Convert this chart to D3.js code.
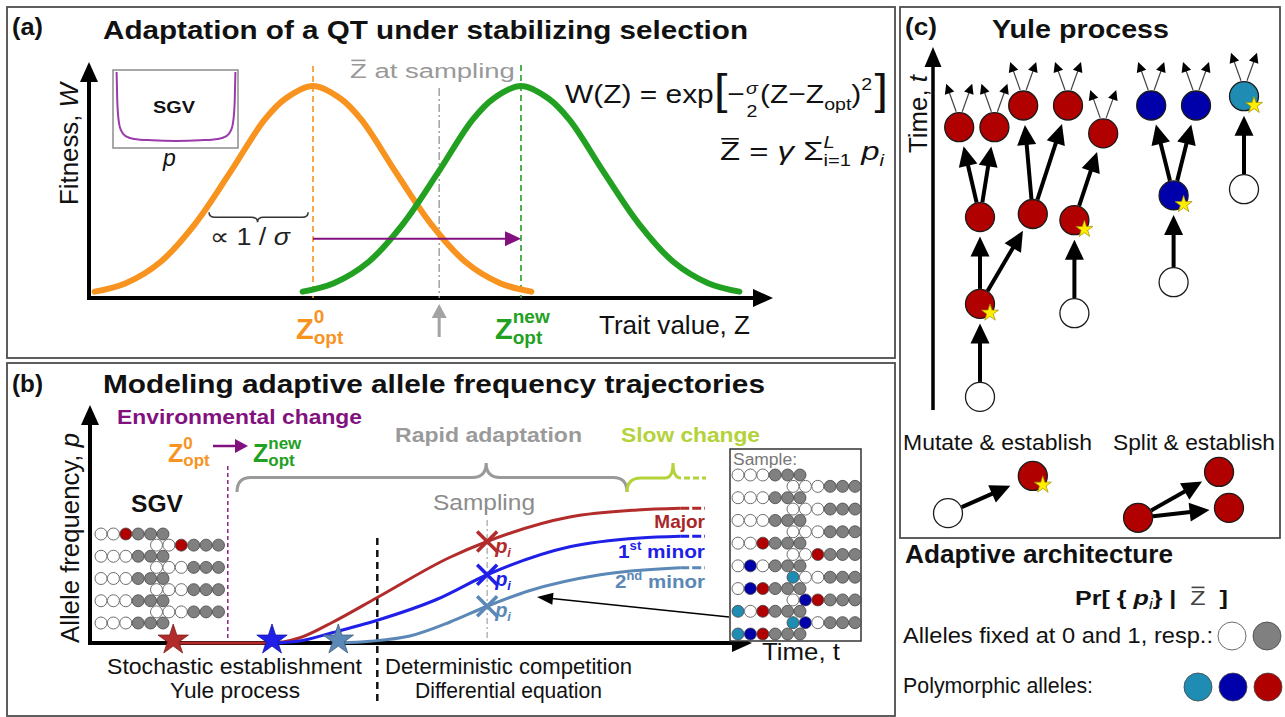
<!DOCTYPE html>
<html>
<head>
<meta charset="utf-8">
<style>
  body { margin: 0; background: #fff; }
  svg { font-family: "Liberation Sans", Arial, Helvetica, sans-serif; display: block; }
  .frame { fill: none; stroke: #4d4d4d; stroke-width: 1.8; }
</style>
</head>
<body>
<svg id="fig" width="1285" height="717"></svg>
<script src="https://d3js.org/d3.v7.min.js"></script>
<script>
// ---------- (a) fitness curves ----------
const orangeZ = [-0.15, 0.3, 0.8, 1.3, 1.8, 2.3, 2.6, 3.0, 3.4, 3.7, 4.2, 4.7, 5.2, 5.7, 6.15]
const orangeW = [0.03, 0.07, 0.17, 0.35, 0.59, 0.84, 0.94, 1.0, 0.94, 0.84, 0.59, 0.35, 0.17, 0.07, 0.03]
const greenZ  = [2.85, 3.3, 3.8, 4.3, 4.8, 5.3, 5.6, 6.0, 6.4, 6.7, 7.2, 7.7, 8.2, 8.7, 9.15]
const greenW  = [0.03, 0.07, 0.17, 0.35, 0.59, 0.84, 0.94, 1.0, 0.94, 0.84, 0.59, 0.35, 0.17, 0.07, 0.03]
const zOpt0 = 3.0, zOptNew = 6.0, zBarSample = 4.82
// SGV inset: U-shaped allele frequency spectrum
const sgvP    = [0.005, 0.01, 0.02, 0.04, 0.08, 0.15, 0.3, 0.5, 0.7, 0.85, 0.92, 0.96, 0.98, 0.99, 0.995]
const sgvDens = [1.0, 0.62, 0.33, 0.16, 0.07, 0.03, 0.01, 0.0, 0.01, 0.03, 0.07, 0.16, 0.33, 0.62, 1.0]

// ---------- (b) allele frequency trajectories ----------
const tMajor  = [1.28, 2.77, 3.23, 3.74, 4.42, 5.54, 6.11, 7.38, 8.42, 9.08]
const pMajor  = [0, 0, 0.03, 0.12, 0.26, 0.49, 0.58, 0.72, 0.76, 0.77]
const tMinor1 = [2.8, 3.2, 3.74, 4.42, 5.34, 6.11, 7.38, 8.46, 9.08]
const pMinor1 = [0, 0.01, 0.06, 0.13, 0.25, 0.39, 0.55, 0.60, 0.61]
const tMinor2 = [3.82, 4.31, 4.92, 5.54, 6.11, 6.77, 7.85, 9.08]
const pMinor2 = [0, 0.01, 0.04, 0.12, 0.21, 0.30, 0.39, 0.43]
const tEnvChange = 2.12, tDeterministic = 4.42, tSample = 6.11, tDashEnd = 9.46
// standing genetic variation and the sample (0 fixed at 0, 1 fixed at 1, r/b/t polymorphic)
const sgvRows    = ["00r111", "00r111", "000111", "000111", "000111", "000111", "000111", "000111", "000111"]
const sampleRows = ["000111", "000111", "000111", "000111", "000111", "000111", "00r111", "00r111",
                    "0b0111", "t00111", "0br111", "0br111", "t0r111", "tb0111", "tbr111"]

// ---------- (c) Yule process ----------
const yuleLineage = [1.25, 1.25, 1.25, 2.9, 0.6, 1.7, 2.6, 4.0, 4.2, 4.2, 5.1, 7.3, 7.3, 6.6, 8.0, 9.5, 9.5]
const yuleTime    = [0.1, 3.1, 5.9, 6.0, 8.8, 8.8, 9.5, 9.5, 2.8, 5.8, 8.6, 3.8, 6.6, 9.5, 9.5, 6.8, 9.8]
const yuleType    = ["0", "r", "r", "r", "r", "r", "r", "r", "0", "r", "r", "0", "b", "b", "b", "0", "t"]
const yuleStar    = [0, 1, 0, 0, 0, 0, 0, 0, 0, 1, 0, 0, 1, 0, 0, 0, 1]
const yuleEdges   = [[0, 1], [1, 2], [1, 3], [2, 4], [2, 5], [3, 6], [3, 7], [8, 9], [9, 10],
                     [11, 12], [12, 13], [12, 14], [15, 16]]
const yuleLeaves  = [4, 5, 6, 7, 10, 13, 14, 16]
const fixedAlleles = ["0", "1"]
const polyAlleles  = ["t", "b", "r"]

const ORANGE = "#f7931e", GREEN = "#22a022", PURPLE = "#82117f", GRAYT = "#9a9a9a", LIME = "#b4d23a"
const RED = "#b22c2c", BLUE = "#1f1fe8", STEEL = "#5b88b6"
const alleleFill = { "0": "#fff", "1": "#808080", r: "#b00000", b: "#0000aa", t: "#1f8db3" }

const svg = d3.select("#fig")

function label(g, x, y, s, o = {}) {
    let t = g.append("text").attr("x", x).attr("y", y)
        .attr("font-size", o.size || 20)
        .attr("font-weight", o.bold ? "bold" : "normal")
        .attr("font-style", o.italic ? "italic" : "normal")
        .attr("fill", o.color || "#111")
        .attr("text-anchor", o.anchor || "start")
        .text(s)
    if (o.w) t.attr("textLength", o.w).attr("lengthAdjust", "spacingAndGlyphs")
    return t
}

// a line of mixed text (sub/superscripts, stacked indices, overlines)
function row(g, x, y, pieces, o = {}) {
    let grp = g.append("g")
    let cx = 0
    const put = (p, px) => grp.append("text").attr("x", px).attr("y", p.dy || 0)
        .attr("font-size", p.size || o.size)
        .attr("font-weight", (p.bold !== undefined ? p.bold : o.bold) ? "bold" : "normal")
        .attr("font-style", p.italic ? "italic" : "normal")
        .attr("fill", p.color || o.color || "#111")
        .text(p.s.replace(/ /g, "\u00a0"))
    pieces.forEach(p => {
        if (p.stack) {
            let ts = p.stack.map(q => put(q, cx))
            let ws = ts.map(t => t.node().getComputedTextLength())
            let W = Math.max(...ws)
            if (p.center) ts.forEach((t, i) => t.attr("x", cx + (W - ws[i]) / 2))
            cx += W + (p.gap || 0)
        } else {
            let t = put(p, cx)
            let w = t.node().getComputedTextLength()
            if (p.bar) {
                let by = -(p.size || o.size) * 0.72 - 2.5
                grp.append("line").attr("x1", cx + 1).attr("x2", cx + w - 1)
                    .attr("y1", by).attr("y2", by)
                    .attr("stroke", p.color || o.color || "#111").attr("stroke-width", 1.6)
            }
            cx += w + (p.gap || 0)
        }
    })
    let sx = o.w ? o.w / cx : 1
    let x0 = x
    if (!o.rotate && o.anchor === "end") x0 = x - cx * sx
    if (!o.rotate && o.anchor === "middle") x0 = x - cx * sx / 2
    grp.attr("transform", `translate(${x0},${y})` + (o.rotate ? ` rotate(${o.rotate})` : "") + ` scale(${sx},1)`)
    return grp
}

function arrow(g, x1, y1, x2, y2, o) {
    let len = Math.hypot(x2 - x1, y2 - y1)
    let ux = (x2 - x1) / len, uy = (y2 - y1) / len
    let hl = o.head, hw = o.headW || o.head
    let bx = x2 - ux * hl, by = y2 - uy * hl
    g.append("line").attr("x1", x1).attr("y1", y1).attr("x2", bx + ux).attr("y2", by + uy)
        .attr("stroke", o.line || o.color).attr("stroke-width", o.width)
    g.append("path")
        .attr("d", `M${x2},${y2}L${bx - uy * hw / 2},${by + ux * hw / 2}L${bx + uy * hw / 2},${by - ux * hw / 2}Z`)
        .attr("fill", o.color)
}

function brace(x1, x2, y0, h, dir, r, xm) {
    let ym = y0 + dir * h / 2, yt = y0 + dir * h
    return `M${x1},${y0} Q${x1},${ym} ${x1 + r},${ym} L${xm - r},${ym} Q${xm},${ym} ${xm},${yt} ` +
        `Q${xm},${ym} ${xm + r},${ym} L${x2 - r},${ym} Q${x2},${ym} ${x2},${y0}`
}

function dot(g, x, y, code, r) {
    g.append("circle").attr("cx", x).attr("cy", y).attr("r", r)
        .attr("fill", alleleFill[code])
        .attr("stroke", code === "0" ? "#6e6e6e" : "#444").attr("stroke-width", code === "0" ? 1 : 0.8)
}

// ====================== panel (a) ======================
let gA = svg.append("g")
gA.append("rect").attr("class", "frame").attr("x", 7).attr("y", 7).attr("width", 888).attr("height", 351)
label(gA, 12, 35, "(a)", { size: 24, bold: true, w: 31 })
label(gA, 103, 39, "Adaptation of a QT under stabilizing selection", { size: 25, bold: true, w: 645 })

let xA = d3.scaleLinear().domain([zOpt0, zOptNew]).range([313, 521])
let yA = d3.scaleLinear().domain([0, 1]).range([298, 86])

arrow(gA, 89, 300, 89, 62, { width: 4, head: 20, headW: 18, color: "#000" })
arrow(gA, 87, yA(0), 773, yA(0), { width: 4, head: 20, headW: 18, color: "#000" })
row(gA, 78, 205, [{ s: "Fitness, " }, { s: "W", italic: true }], { size: 25, rotate: -90, w: 122 })
label(gA, 599, 334, "Trait value, Z", { size: 25, w: 151 })

// optimum and sampling markers
gA.append("line").attr("x1", xA(zOpt0)).attr("x2", xA(zOpt0)).attr("y1", 66).attr("y2", yA(0))
    .attr("stroke", ORANGE).attr("stroke-width", 1.6).attr("stroke-dasharray", "6,4")
gA.append("line").attr("x1", xA(zOptNew)).attr("x2", xA(zOptNew)).attr("y1", 65).attr("y2", yA(0))
    .attr("stroke", GREEN).attr("stroke-width", 1.6).attr("stroke-dasharray", "6,4")
gA.append("line").attr("x1", xA(zBarSample)).attr("x2", xA(zBarSample)).attr("y1", yA(0.99)).attr("y2", yA(0))
    .attr("stroke", "#9a9a9a").attr("stroke-width", 1.4).attr("stroke-dasharray", "8,3,2,3")
arrow(gA, xA(zBarSample), 337, xA(zBarSample), 304, { width: 3, head: 14, headW: 15, color: "#a3a3a3" })
row(gA, 350, 78, [{ s: "Z", bar: true }, { s: " at sampling" }], { size: 21, color: "#999", w: 165 })

let fitLine = d3.line().x(d => xA(d[0])).y(d => yA(d[1])).curve(d3.curveCatmullRom)
gA.append("path").attr("d", fitLine(d3.zip(orangeZ, orangeW)))
    .attr("fill", "none").attr("stroke", ORANGE).attr("stroke-width", 6).attr("stroke-linecap", "round")
gA.append("path").attr("d", fitLine(d3.zip(greenZ, greenW)))
    .attr("fill", "none").attr("stroke", GREEN).attr("stroke-width", 6).attr("stroke-linecap", "round")

arrow(gA, xA(zOpt0), yA(0.28), xA(zOptNew), yA(0.28), { width: 2, head: 16, headW: 15, color: PURPLE })

gA.append("path").attr("d", brace(xA(1.5), xA(2.93), yA(0.405), 10, 1, 6, xA(2.2)))
    .attr("fill", "none").attr("stroke", "#333").attr("stroke-width", 1.5)
row(gA, 210, 245, [{ s: "∝ 1 / " }, { s: "σ", italic: true }], { size: 24, w: 80, color: "#222" })

row(gA, 296, 339, [{ s: "Z", size: 29 }, { stack: [{ s: "0", size: 19, dy: -16 }, { s: "opt", size: 19, dy: 5 }] }],
    { bold: true, color: ORANGE })
row(gA, 495, 339, [{ s: "Z", size: 29 }, { stack: [{ s: "new", size: 19, dy: -16 }, { s: "opt", size: 19, dy: 5 }] }],
    { bold: true, color: GREEN })

// SGV inset
let xS = d3.scaleLinear().domain([0, 1]).range([116, 236])
let yS = d3.scaleLinear().domain([0, 1]).range([141, 72])
gA.append("rect").attr("x", 113).attr("y", 70).attr("width", 125).attr("height", 78)
    .attr("fill", "#fff").attr("stroke", "#8c8c8c").attr("stroke-width", 1.5)
gA.append("path").attr("d", d3.line().x(d => xS(d[0])).y(d => yS(d[1])).curve(d3.curveMonotoneX)(d3.zip(sgvP, sgvDens)))
    .attr("fill", "none").attr("stroke", "#9a3aad").attr("stroke-width", 2)
label(gA, 153, 113, "SGV", { size: 17, bold: true, w: 42 })
label(gA, 163, 166, "p", { size: 23, italic: true })

// formulas
row(gA, 565, 103, [
    { s: "W(Z) = exp" },
    { s: "[", size: 42, dy: 1 },
    { s: "−", gap: 1 },
    { stack: [{ s: "σ", italic: true, size: 17, dy: -9 }, { s: "2", size: 17, dy: 14 }], center: true, gap: 2 },
    { s: "(Z−Z" },
    { s: "opt", size: 17, dy: 7 },
    { s: ")" },
    { s: "2", size: 17, dy: -13, gap: 2 },
    { s: "]", size: 42, dy: 1 }
], { size: 26, w: 323 })
row(gA, 720, 160, [
    { s: "Z", bar: true },
    { s: " = " },
    { s: "γ", italic: true },
    { s: " Σ" },
    { stack: [{ s: "L", italic: true, size: 16, dy: -12 }, { s: "i=1", size: 16, dy: 6 }], gap: 8 },
    { s: "p", italic: true },
    { s: "i", italic: true, size: 16, dy: 6 }
], { size: 26, w: 164 })

// ====================== panel (b) ======================
let gB = svg.append("g")
gB.append("rect").attr("class", "frame").attr("x", 7).attr("y", 363).attr("width", 888).attr("height", 353)
label(gB, 12, 392, "(b)", { size: 24, bold: true, w: 31 })
label(gB, 103, 393, "Modeling adaptive allele frequency trajectories", { size: 25, bold: true, w: 662 })

let xB = d3.scaleLinear().domain([0, 10]).range([90, 740])
let yB = d3.scaleLinear().domain([0, 1]).range([643, 468])

row(gB, 79, 643, [{ s: "Allele frequency, " }, { s: "p", italic: true }], { size: 25, rotate: -90, w: 210 })

label(gB, 117, 424, "Environmental change", { size: 21, bold: true, color: PURPLE, w: 245 })
row(gB, 168, 462, [{ s: "Z", size: 25 }, { stack: [{ s: "0", size: 17, dy: -13 }, { s: "opt", size: 17, dy: 4 }] }],
    { bold: true, color: ORANGE })
arrow(gB, 213, 446, 248, 446, { width: 2.5, head: 13, headW: 14, color: PURPLE })
row(gB, 253, 462, [{ s: "Z", size: 25 }, { stack: [{ s: "new", size: 17, dy: -13 }, { s: "opt", size: 17, dy: 4 }] }],
    { bold: true, color: GREEN })
gB.append("line").attr("x1", xB(tEnvChange)).attr("x2", xB(tEnvChange)).attr("y1", 466).attr("y2", yB(0))
    .attr("stroke", PURPLE).attr("stroke-width", 1.4).attr("stroke-dasharray", "4,3")

label(gB, 131, 512, "SGV", { size: 23, bold: true, w: 52 })
let sgvCol = d3.scaleLinear().domain([0, 5]).range([0, 62])
let sgvRow = d3.scaleLinear().domain([0, sgvRows.length - 1]).range([534, 623])
sgvRows.forEach((r, i) => {
    let x0 = i % 2 === 0 ? 101 : 156.5
    r.split("").forEach((c, j) => dot(gB, x0 + sgvCol(j), sgvRow(i), c, 6))
})

// braces
gB.append("path").attr("d", brace(237, 627, 492, 29, -1, 14, xB(tSample) - 1))
    .attr("fill", "none").attr("stroke", "#9a9a9a").attr("stroke-width", 3)
gB.append("path").attr("d", "M627,492 Q627,478 641,478 L665,478 Q673,478 673,463 Q673,478 681,478")
    .attr("fill", "none").attr("stroke", LIME).attr("stroke-width", 3)
gB.append("line").attr("x1", 684).attr("x2", 706).attr("y1", 478).attr("y2", 478)
    .attr("stroke", LIME).attr("stroke-width", 3).attr("stroke-dasharray", "6,3")
label(gB, 395, 442, "Rapid adaptation", { size: 21, bold: true, color: GRAYT, w: 187 })
label(gB, 621, 442, "Slow change", { size: 21, bold: true, color: LIME, w: 139 })
label(gB, 433, 510, "Sampling", { size: 22, color: "#8c8c8c", w: 102 })

// phase boundaries
gB.append("line").attr("x1", xB(tDeterministic)).attr("x2", xB(tDeterministic)).attr("y1", 538).attr("y2", 703)
    .attr("stroke", "#111").attr("stroke-width", 2.5).attr("stroke-dasharray", "7,5")
gB.append("line").attr("x1", xB(tSample)).attr("x2", xB(tSample)).attr("y1", 520).attr("y2", yB(0))
    .attr("stroke", "#aaa").attr("stroke-width", 1.3).attr("stroke-dasharray", "6,3,2,3")

// axes
arrow(gB, 90, 645, 90, 405, { width: 4, head: 20, headW: 18, color: "#000" })
arrow(gB, 88, yB(0), 752, yB(0), { width: 4, head: 20, headW: 18, color: "#000" })

// trajectories
let trajLine = d3.line().x(d => xB(d[0])).y(d => yB(d[1])).curve(d3.curveMonotoneX)
let series = [
    { t: tMajor, p: pMajor, color: RED },
    { t: tMinor1, p: pMinor1, color: BLUE },
    { t: tMinor2, p: pMinor2, color: STEEL }
]
series.forEach(s => {
    gB.append("path").attr("d", trajLine(d3.zip(s.t, s.p)))
        .attr("fill", "none").attr("stroke", s.color).attr("stroke-width", 3)
    let last = s.p[s.p.length - 1]
    gB.append("line").attr("x1", xB(s.t[s.t.length - 1])).attr("x2", xB(tDashEnd))
        .attr("y1", yB(last)).attr("y2", yB(last))
        .attr("stroke", s.color).attr("stroke-width", 3).attr("stroke-dasharray", "9,3")
})
let bigStar = d3.symbol().type(d3.symbolStar).size(16 * 16 / 0.8908)
series.forEach(s => {
    gB.append("path").attr("d", bigStar)
        .attr("transform", `translate(${xB(s.t[0])},${yB(0) - 3})`)
        .attr("fill", s.color).attr("stroke", d3.color(s.color).darker(1)).attr("stroke-width", 0.8)
})
// sampled frequencies
series.forEach(s => {
    let pi = s.p[s.t.indexOf(tSample)]
    let cx = xB(tSample), cy = yB(pi), h = 10
    gB.append("path").attr("d", `M${cx - h},${cy - h}L${cx + h},${cy + h}M${cx - h},${cy + h}L${cx + h},${cy - h}`)
        .attr("stroke", s.color).attr("stroke-width", 3.5)
    row(gB, cx + 8, cy + 11, [{ s: "p", italic: true }, { s: "i", italic: true, size: 13, dy: 4 }],
        { size: 20, bold: true, color: s.color })
})
label(gB, 705, 528, "Major", { size: 19, bold: true, color: "#a82828", anchor: "end" })
row(gB, 705, 558, [{ s: "1" }, { s: "st", size: 12, dy: -8 }, { s: " minor" }],
    { size: 19, bold: true, color: BLUE, anchor: "end", w: 87 })
row(gB, 705, 588, [{ s: "2" }, { s: "nd", size: 12, dy: -8 }, { s: " minor" }],
    { size: 19, bold: true, color: STEEL, anchor: "end", w: 90 })

label(gB, 107, 674, "Stochastic establishment", { size: 22, w: 255 })
label(gB, 170, 698, "Yule process", { size: 22, w: 130 })
label(gB, 385, 674, "Deterministic competition", { size: 22, w: 247 })
label(gB, 415, 698, "Differential equation", { size: 22, w: 187 })

// sample box
gB.append("rect").attr("x", 730).attr("y", 449).attr("width", 131).attr("height", 192)
    .attr("fill", "#fff").attr("stroke", "#333").attr("stroke-width", 1.5)
label(gB, 733, 465, "Sample:", { size: 16, color: "#777", w: 64 })
let smpRow = d3.scaleLinear().domain([0, sampleRows.length - 1]).range([475, 634])
sampleRows.forEach((r, i) => {
    let x0 = i % 2 === 0 ? 738 : 793
    r.split("").forEach((c, j) => dot(gB, x0 + sgvCol(j), smpRow(i), c, 6))
})
arrow(gB, 729, 617, 537, 597, { width: 1.6, head: 16, headW: 12, color: "#000" })
label(gB, 762, 660, "Time, t", { size: 24, w: 78 })

// ====================== panel (c) ======================
let gC = svg.append("g")
gC.append("rect").attr("class", "frame").attr("x", 900).attr("y", 7).attr("width", 380).attr("height", 531)
label(gC, 905, 35, "(c)", { size: 24, bold: true, w: 32 })
label(gC, 992, 38, "Yule process", { size: 25, bold: true, w: 177 })

let xC = d3.scaleLinear().domain([0, 10]).range([940, 1260])
let tC = d3.scaleLinear().domain([0, 10]).range([400, 90])
arrow(gC, 933, 410, 933, 47, { width: 3.5, head: 20, headW: 17, color: "#000" })
row(gC, 927, 153, [{ s: "Time, " }, { s: "t", italic: true }], { size: 25, rotate: -90, w: 78 })

const R = 14.5
function link(g, x1, y1, x2, y2, gap) {
    let len = Math.hypot(x2 - x1, y2 - y1), ux = (x2 - x1) / len, uy = (y2 - y1) / len
    arrow(g, x1 + ux * (R + 0.5), y1 + uy * (R + 0.5), x2 - ux * (R + gap), y2 - uy * (R + gap),
        { width: 4, head: 20, headW: 19, color: "#000" })
}
let smallStar = d3.symbol().type(d3.symbolStar).size(9 * 9 / 0.8908)
function node(g, x, y, code, star) {
    g.append("circle").attr("cx", x).attr("cy", y).attr("r", R)
        .attr("fill", alleleFill[code]).attr("stroke", "#1a1a1a").attr("stroke-width", 1.3)
    if (star) g.append("path").attr("d", smallStar).attr("transform", `translate(${x + 10},${y + 9})`)
        .attr("fill", "#ffee00").attr("stroke", "#a08c00").attr("stroke-width", 0.7)
}

yuleEdges.forEach(([a, b]) => link(gC, xC(yuleLineage[a]), tC(yuleTime[a]), xC(yuleLineage[b]), tC(yuleTime[b]), 5))
yuleLeaves.forEach(i => {
    let x = xC(yuleLineage[i]), y = tC(yuleTime[i])
    arrow(gC, x - 3, y - R - 1, x - 13, y - R - 29, { width: 1.2, head: 10, headW: 10, color: "#000", line: "#444" })
    arrow(gC, x + 3, y - R - 1, x + 13, y - R - 29, { width: 1.2, head: 10, headW: 10, color: "#000", line: "#444" })
})
yuleLineage.forEach((l, i) => node(gC, xC(l), tC(yuleTime[i]), yuleType[i], yuleStar[i]))

label(gC, 903, 450, "Mutate & establish", { size: 22, w: 189 })
label(gC, 1113, 450, "Split & establish", { size: 22, w: 162 })
// illustrations in the same lineage/time units
link(gC, xC(0.25), tC(-3.65), xC(2.9), tC(-2.45), 10)
node(gC, xC(0.25), tC(-3.65), "0", 0)
node(gC, xC(2.9), tC(-2.45), "r", 1)
link(gC, xC(6.19), tC(-3.8), xC(8.72), tC(-2.32), 5)
link(gC, xC(6.19), tC(-3.8), xC(9.03), tC(-3.48), 5)
node(gC, xC(6.19), tC(-3.8), "r", 0)
node(gC, xC(8.72), tC(-2.32), "r", 0)
node(gC, xC(9.03), tC(-3.48), "r", 0)

// ====================== adaptive architecture legend ======================
let gD = svg.append("g")
label(gD, 905, 563, "Adaptive architecture", { size: 26, bold: true, w: 268 })
row(gD, 1075, 605, [
    { s: "Pr[ { " }, { s: "p", italic: true }, { s: "i", italic: true, size: 14, dy: 4, bold: false },
    { s: "} |  " }, { s: "Z", bar: true, bold: false, color: "#444" }, { s: "  ]" }
], { size: 21, bold: true, w: 153 })
label(gD, 903, 643, "Alleles fixed at 0 and 1, resp.:", { size: 22, w: 310 })
label(gD, 903, 693, "Polymorphic alleles:", { size: 22, w: 190 })
let fixedX = d3.scalePoint().domain(fixedAlleles).range([1232, 1267])
fixedAlleles.forEach(c => dot(gD, fixedX(c), 636, c, 14))
let polyX = d3.scalePoint().domain(polyAlleles).range([1198, 1268])
polyAlleles.forEach(c => dot(gD, polyX(c), 687, c, 14))
</script>
</body>
</html>
